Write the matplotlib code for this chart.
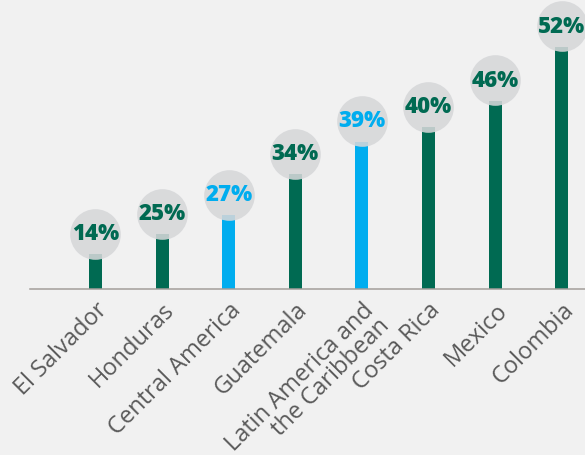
import matplotlib
matplotlib.use("Agg")
import matplotlib.pyplot as plt

# data
categories = ["El Salvador", "Honduras", "Central America", "Guatemala",
              "Latin America and\nthe Caribbean", "Costa Rica", "Mexico", "Colombia"]
labels = ["14%", "25%", "27%", "34%", "39%", "40%", "46%", "52%"]
# bar heights as drawn in the picture (not proportional to the labels)
bar_heights = [7.5, 11.8, 15.9, 24.7, 31.6, 34.8, 40.4, 52.0]
highlight = [False, False, True, False, True, False, False, False]

green = "#006a52"
blue = "#00adef"
bg = "#f1f1f1"

fig = plt.figure(figsize=(5.85, 4.56), dpi=100, facecolor=bg)
ax = fig.add_axes([30/585, 166/456, 555/585, 290/456])
ax.set_facecolor(bg)

x = list(range(len(categories)))
colors = [blue if h else green for h in highlight]
ax.bar(x, bar_heights, width=0.195, color=colors, zorder=2)

# grey bubbles with the value labels
ax.scatter(x, [h + 4.4 for h in bar_heights], s=1330, color="#d6d7d9",
           alpha=0.88, linewidths=0, zorder=3, clip_on=False)
for xi, h, lab, c in zip(x, bar_heights, labels, colors):
    ax.text(xi, h + 4.6, lab, ha="center", va="center", fontsize=16,
            fontweight="heavy", family="Open Sans", color=c, zorder=4)

ax.set_xlim(-0.983, 7.35)
ax.set_ylim(0, 62.3)

for s in ["top", "right", "left"]:
    ax.spines[s].set_visible(False)
ax.spines["bottom"].set_color("#a39e9a")
ax.spines["bottom"].set_linewidth(1.1)
ax.set_yticks([])
ax.set_xticks(x)
ax.set_xticklabels(categories, rotation=45, ha="right", va="top",
                   rotation_mode="anchor", multialignment="right",
                   fontsize=17, family="Open Sans", color="#5a5a5a")
ax.tick_params(axis="x", length=0, pad=6)
for t in ax.get_xticklabels():
    t.set_linespacing(0.9)

fig.savefig("out.png", dpi=100, facecolor=bg)
